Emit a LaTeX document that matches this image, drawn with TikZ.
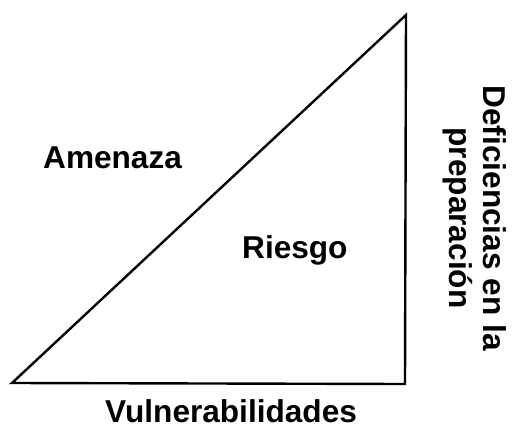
\documentclass[tikz,border=0pt]{standalone}
\usepackage{fontspec}
\setmainfont{Liberation Sans}
\begin{document}
\begin{tikzpicture}[x=1pt,y=-1pt,
  lbl/.style={font=\fontsize{31.6}{34}\selectfont\bfseries, inner sep=0pt}]
  \useasboundingbox (0,0) rectangle (512,431);

  \coordinate (left) at (12,383);
  \coordinate (corner) at (405,384);
  \coordinate (apex) at (406,15);
  \draw[line width=2.4pt, line join=miter] (left) -- (corner) -- (apex) -- cycle;

  \node[lbl, anchor=base west] (amenaza) at (43,168) {Amenaza};
  \node[lbl, anchor=base west] (riesgo) at (242,258) {Riesgo};
  \node[lbl, anchor=base west] (vuln) at (105,422) {Vulnerabilidades};
  \node[lbl, align=center, rotate=-90] (defic) at (475,218) {Deficiencias en la\\preparación};
\end{tikzpicture}
\end{document}
